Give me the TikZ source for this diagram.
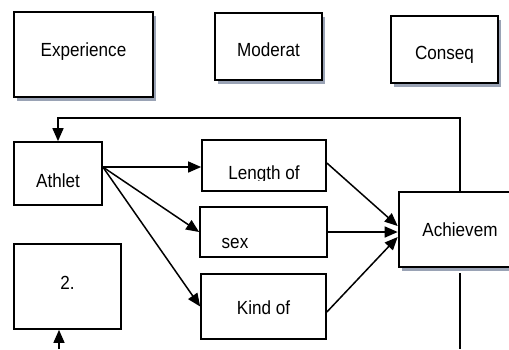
\documentclass[tikz,border=0pt]{standalone}
\usepackage{fontspec}
\setmainfont{Liberation Sans}[FakeStretch=0.9]
\usetikzlibrary{arrows.meta,shadows}
\definecolor{shadowgray}{RGB}{154,163,181}
\newcommand{\shiftup}[2]{\raisebox{#1}[\height][\depth]{#2}}

\begin{document}
\begin{tikzpicture}[x=1pt,y=-1pt,
        every node/.style={font=\fontsize{19}{22}\selectfont},
        box/.style={draw,rectangle,line width=1.7pt,fill=white,inner sep=0pt},
        shbox/.style={box,line width=2.6pt,general shadow={fill=shadowgray,shadow xshift=3pt,shadow yshift=-4pt}},
        arr/.style={line width=1.5pt,-{Triangle[length=13pt,width=11pt]}},
        ln/.style={line width=1.5pt}]

        \useasboundingbox (0,0) rectangle (509,349);

        \node[shbox,minimum width=139pt,minimum height=85pt] (exper) at (83.5,54.5) {\shiftup{2.7pt}{Experience}};
        \node[shbox,minimum width=107pt,minimum height=67pt] (moder) at (268.5,46.5) {\shiftup{-3pt}{Moderat}};
        \node[shbox,minimum width=107pt,minimum height=67pt] (conseq) at (444.5,49.5) {\shiftup{-5.8pt}{Conseq}};

        \node[box,minimum width=88pt,minimum height=63pt] (athlet) at (58,173.5) {\shiftup{-7pt}{Athlet}};
        \node[box,minimum width=107pt,minimum height=85pt] (two) at (67.5,286.5) {\shiftup{4pt}{2.}};
        \node[box,minimum width=124pt,minimum height=51pt] (lenth) at (264,165.5) {};
        \begin{scope}
        \clip (204,142) rectangle (324,180.5);
        \node (lenthT) at (264,175) {Length of};
        \end{scope}
        \node[box,minimum width=127pt,minimum height=50pt] (sex) at (263.5,232) {\shiftup{-11.6pt}{sex}\hspace*{57pt}};
        \node[box,minimum width=125pt,minimum height=65pt] (kind) at (263.5,306.5) {\shiftup{-1.5pt}{Kind of}};
        \node[shbox,minimum width=122pt,minimum height=75pt] (achiev) at (460,229.5) {Achievem};

        \coordinate (aout) at ([yshift=6.5pt]athlet.east);
        \coordinate (fb) at (460,118);
        \coordinate (bot1) at (59,349);
        \coordinate (bot2) at (460,349);

        \draw[arr] (aout) -- (aout -| lenth.west);
        \draw[arr] (aout) -- (sex.west);
        \draw[arr] (aout) -- (kind.west);
        \draw[arr] ([yshift=2.5pt]lenth.east) -- ([yshift=3.5pt]achiev.west);
        \draw[arr] (sex.east) -- ([yshift=-2.5pt]achiev.west);
        \draw[arr] ([yshift=-5.5pt]kind.east) -- ([yshift=-7.5pt]achiev.west);
        \draw[arr] (achiev.north) -- (fb) -| (athlet.north);
        \draw[arr] (bot1) -- (bot1 |- two.south);
        \draw[ln] ([yshift=-5pt]achiev.south) -- (bot2);

      \end{tikzpicture}
\end{document}
